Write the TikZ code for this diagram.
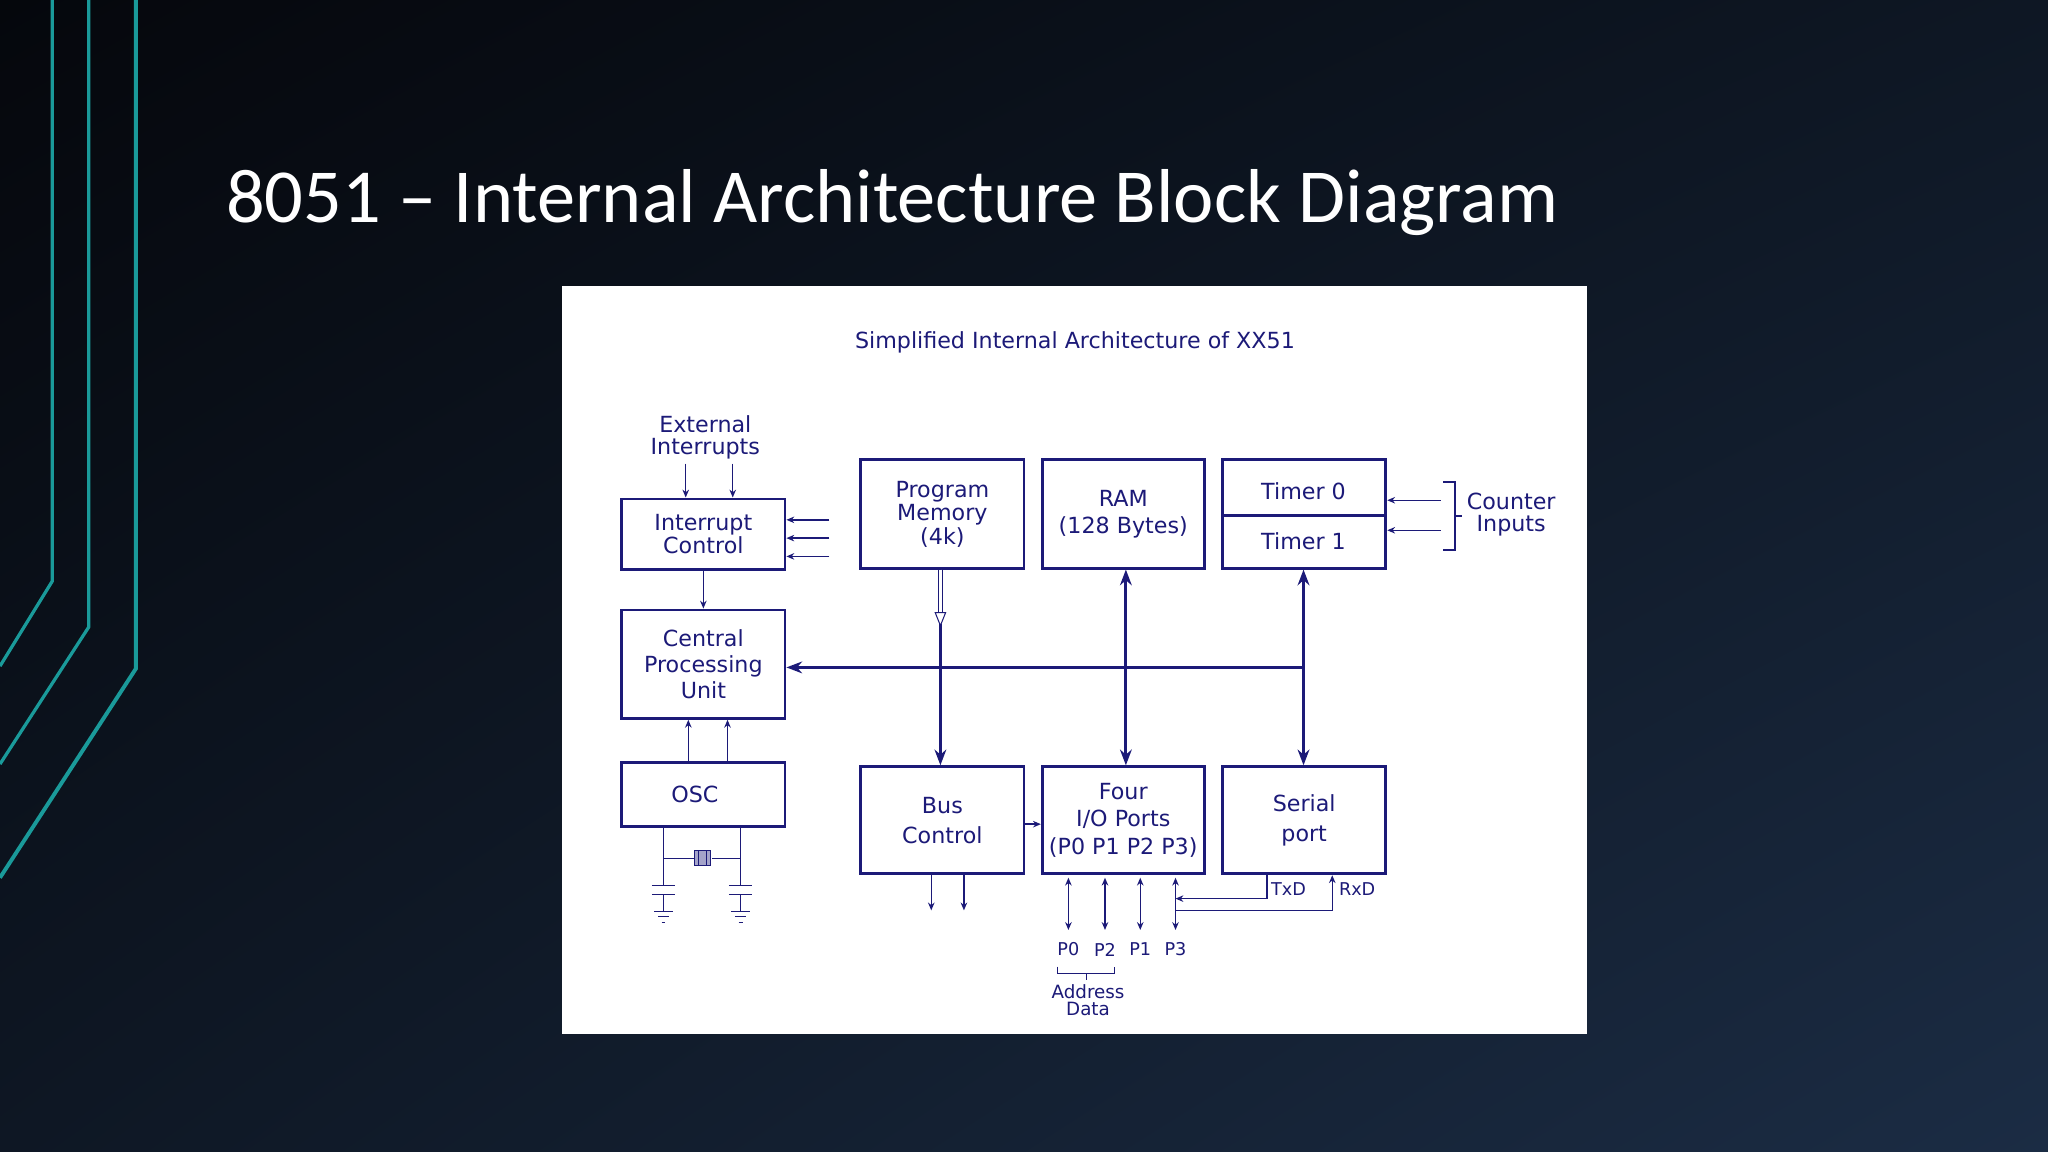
\documentclass[tikz,border=0pt]{standalone}
\usepackage{fontspec}
\setmainfont{DejaVu Sans}
\newfontfamily\titlefont{Carlito}
\usetikzlibrary{arrows.meta,shadings}
\definecolor{nv}{HTML}{1C1A78}
\definecolor{teal1}{HTML}{1A9A9A}
\definecolor{bgA}{HTML}{05070C}
\definecolor{bgB}{HTML}{0E1724}
\definecolor{bgC}{HTML}{1B2C44}
\begin{document}
\begin{tikzpicture}[x=1pt,y=-1pt,
 blk/.style={draw=nv,line width=2.2pt,fill=white},
 lbl/.style={text=nv,font=\fontsize{17}{20}\selectfont,align=center},
 sm/.style={text=nv,font=\fontsize{13.5}{14}\selectfont,align=center},
 ln/.style={draw=nv,line width=1.1pt},
 ar/.style={ln,-{Stealth[length=6pt,width=5pt]}},
 bar/.style={draw=nv,line width=2.2pt,-{Stealth[length=12pt,width=9pt]}},
 dbar/.style={draw=nv,line width=2.2pt,{Stealth[length=12pt,width=9pt]}-{Stealth[length=12pt,width=9pt]}},
 dar/.style={ln,{Stealth[length=6pt,width=5pt]}-{Stealth[length=6pt,width=5pt]}}]
\useasboundingbox (0,0) rectangle (1568,882);
\shade[upper left=bgA,upper right=bgB,lower left=bgB,lower right=bgC] (0,0) rectangle (1568,882);
\draw[teal1,line width=2.5pt] (40,0) -- (40,445) -- (0,510);
\draw[teal1,line width=2.5pt] (68,0) -- (68,480) -- (0,585);
\draw[teal1,line width=3pt] (104,0) -- (104,512) -- (0,672);
\node[anchor=base west,text=white,font=\titlefont\fontsize{58.5}{60}\selectfont,inner sep=0] (title) at (173,170) {8051 – Internal Architecture Block Diagram};
\fill[white] (430,219) rectangle (1215,792);
\node[sm,font=\fontsize{17}{18}\selectfont] (sub) at (823,262) {Simplified Internal Architecture of XX51};
% boxes
\node[blk,minimum width=125pt,minimum height=54pt] (ic) at (538.5,409) {};
\node[lbl] (ict) at (ic) {Interrupt\\[-2pt]Control};
\node[blk,minimum width=125pt,minimum height=83pt] (cpu) at (538.5,508.5) {};
\node[lbl] (cput) at (cpu) {Central\\Processing\\Unit};
\node[blk,minimum width=125pt,minimum height=49pt] (osc) at (538.5,608.5) {};
\node[lbl] (osct) at (532,608.5) {OSC};
\node[blk,minimum width=125pt,minimum height=83pt] (pm) at (721.5,393.5) {};
\node[lbl] (pmt) at (pm) {Program\\[-2pt]Memory\\[-2pt](4k)};
\node[blk,minimum width=124pt,minimum height=83pt] (ram) at (860,393.5) {};
\node[lbl] (ramt) at (ram) {RAM\\[1pt](128 Bytes)};
\node[blk,minimum width=125pt,minimum height=83pt] (tm) at (998.5,393.5) {};
\draw[nv,line width=2.2pt] (tm.west |- 0,395) -- (tm.east |- 0,395);
\node[lbl] (t0) at (998,376) {Timer 0};
\node[lbl] (t1) at (998,414) {Timer 1};
\node[blk,minimum width=125pt,minimum height=82pt] (bc) at (721.5,628) {};
\node[lbl] (bct) at (bc) {Bus\\[3pt]Control};
\node[blk,minimum width=124pt,minimum height=82pt] (io) at (860,628) {};
\node[lbl] (iot) at (io) {Four\\[1pt]I/O Ports\\[1pt](P0 P1 P2 P3)};
\node[blk,minimum width=125pt,minimum height=82pt] (sp) at (998.5,628) {};
\node[lbl] (spt) at (sp) {Serial\\[3pt]port};
% external interrupts
\node[lbl] (ext) at (540,335) {External\\[-3pt]Interrupts};
\coordinate (e1) at (525,355); \coordinate (e2) at (561,355);
\draw[ar] (e1) -- (e1 |- ic.north);
\draw[ar] (e2) -- (e2 |- ic.north);
\foreach \y/\n in {398/a,412/b,426/c}{\coordinate (r\n) at (635,\y); \draw[ar] (r\n) -- (r\n -| ic.east);}
\draw[ar] (ic.south) -- (cpu.north);
\draw[ar] (osc.north -| 527,0) -- (cpu.south -| 527,0);
\draw[ar] (osc.north -| 557,0) -- (cpu.south -| 557,0);
% oscillator circuit
\draw[ln,line width=0.8pt] (osc.south -| 508,0) -- (508,678) (osc.south -| 567,0) -- (567,678);
\draw[ln,line width=0.8pt] (508,657) -- (567,657);
\fill[white] (531,651) rectangle (545,663);
\draw[nv,line width=0.8pt,fill=nv!40] (532,651) rectangle (544,663);
\draw[nv,line width=0.8pt] (535,651)--(535,663) (541,651)--(541,663);
\foreach \x in {508,567}{
 \draw[nv,line width=1pt] (\x-9,678) -- (\x+9,678) (\x-9,685) -- (\x+9,685);
 \draw[nv,line width=0.8pt] (\x,685) -- (\x,698);
 \draw[nv,line width=0.8pt] (\x-7,698) -- (\x+7,698) (\x-4,702) -- (\x+4,702) (\x-1.5,706) -- (\x+1.5,706);}
% bus
\coordinate (pmb) at (720,478);
\draw[nv,line width=0.6pt,double distance=2pt] (pm.south -| pmb) -- (720,470);
\draw[nv,line width=0.8pt,fill=white] (716,469) -- (724,469) -- (720,479) -- cycle;
\draw[bar] (pmb) -- (bc.north -| pmb);
\draw[dbar] (ram.south -| 862,0) -- (io.north -| 862,0);
\draw[dbar] (tm.south -| 998,0) -- (sp.north -| 998,0);
\coordinate (hb) at (998,511);
\draw[bar] (hb) -- (hb -| cpu.east);
\draw[ar] (bc.east |- 0,631) -- (io.west |- 0,631);
\draw[ar] (bc.south -| 713,0) -- (713,697);
\draw[ar] (bc.south -| 738,0) -- (738,697);
% ports
\foreach \x/\p in {818/P0,846/P2,873/P1,900/P3}{
 \draw[dar] (\x,672) -- (\x,712);
 \node[sm] (lab\p) at (\x,727) {\p};}
\draw[ar] (sp.south -| 970,0) -- (970,688) -- (900,688);
\draw[ar] (900,697) -- (1020,697) -- (sp.south -| 1020,0);
\node[sm,anchor=west,inner sep=1pt] (txd) at (972,681) {TxD};
\node[sm,anchor=west,inner sep=1pt] (rxd) at (1024,681) {RxD};
\draw[nv,line width=0.8pt] (810,740) -- (810,745) -- (853,745) -- (853,740) (831.5,745) -- (831.5,750);
\node[sm,font=\fontsize{14}{14}\selectfont] (ad) at (833,766) {Address\\[-1pt]Data};
% counter inputs
\draw[ar] (1103,383) -- (tm.east |- 0,383);
\draw[ar] (1103,406) -- (tm.east |- 0,406);
\draw[nv,line width=1pt] (1105,369) -- (1114,369) -- (1114,421) -- (1105,421) (1114,395) -- (1119,395);
\node[lbl] (ci) at (1157,394) {Counter\\[-3pt]Inputs};
\end{tikzpicture}
\end{document}
